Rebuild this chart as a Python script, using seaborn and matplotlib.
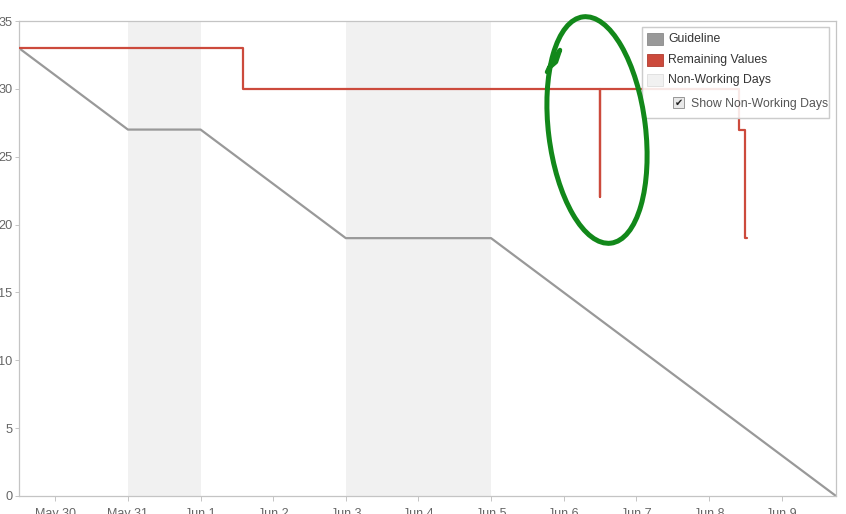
import numpy as np
import pandas as pd
import matplotlib
matplotlib.use("Agg")
import matplotlib.pyplot as plt
import matplotlib.dates as mdates
from matplotlib.patches import Rectangle, Ellipse
from matplotlib.lines import Line2D
import seaborn as sns

# ---- data ----
guide_times = ["2018-05-29 12:00", "2018-05-31 00:00", "2018-06-01 00:00",
               "2018-06-03 00:00", "2018-06-05 00:00", "2018-06-09 18:00"]
guide_values = [33, 27, 27, 19, 19, 0]

remain_times = ["2018-05-29 12:00", "2018-06-01 14:00", "2018-06-01 14:00",
                "2018-06-06 12:00", "2018-06-06 12:00", "2018-06-06 12:00",
                "2018-06-08 10:00", "2018-06-08 10:00", "2018-06-08 12:00",
                "2018-06-08 12:00", "2018-06-08 12:40"]
remain_values = [33, 33, 30, 30, 22, 30, 30, 27, 27, 19, 19]

nonwork_start = ["2018-05-31", "2018-06-03"]
nonwork_end = ["2018-06-01", "2018-06-05"]

x_start = "2018-05-29 12:00"
x_end = "2018-06-09 18:00"
y_ticks = [0, 5, 10, 15, 20, 25, 30, 35]

legend_labels = ["Guideline", "Remaining Values", "Non-Working Days"]
checkbox_label = "Show Non-Working Days"

# ---- style ----
sns.set_theme(style="white")
plt.rcParams["font.family"] = ["Liberation Sans", "DejaVu Sans"]

W, H = 846, 514
fig = plt.figure(figsize=(W / 100, H / 100), dpi=100)
ax = fig.add_axes([19 / W, 18 / H, (836 - 19) / W, (496 - 21) / H])

gray = "#999999"
red = "#cc4a3c"
shade = "#f1f1f1"

for s, e in zip(nonwork_start, nonwork_end):
    ax.axvspan(pd.Timestamp(s), pd.Timestamp(e), color=shade, lw=0, zorder=0)

gdf = pd.DataFrame({"t": pd.to_datetime(guide_times), "v": guide_values})
rdf = pd.DataFrame({"t": pd.to_datetime(remain_times), "v": remain_values})

sns.lineplot(data=gdf, x="t", y="v", ax=ax, color=gray, lw=1.6,
             sort=False, estimator=None, zorder=2)
sns.lineplot(data=rdf, x="t", y="v", ax=ax, color=red, lw=1.6,
             sort=False, estimator=None, zorder=3)

ax.set_xlim(pd.Timestamp(x_start), pd.Timestamp(x_end))
ax.set_ylim(0, 35)
ax.set_yticks(y_ticks)
ax.xaxis.set_major_locator(mdates.DayLocator())
ax.xaxis.set_major_formatter(mdates.DateFormatter("%b %-d"))
ax.set_xlabel("")
ax.set_ylabel("")

for sp in ax.spines.values():
    sp.set_color("#c4c4c4")
    sp.set_linewidth(0.9)

ax.tick_params(axis="x", bottom=True, length=3.6, width=0.7, color="#c4c4c4",
               pad=5.0, labelsize=9, labelcolor="#666666")
ax.tick_params(axis="y", left=True, length=2.6, width=0.7, color="#c4c4c4",
               pad=2.2, labelsize=9.2, labelcolor="#666666")
ax.grid(False)

# ---- legend panel (pixel coordinates in figure) ----
def fx(px):
    return px / W

def fy(py):
    return 1 - py / H

frame = Rectangle((fx(642), fy(118)), fx(829) - fx(642), fy(27) - fy(118),
                  transform=fig.transFigure, facecolor="white", alpha=0.88,
                  edgecolor="#cccccc", lw=0.9, zorder=10)
fig.patches.append(frame)
frame2 = Rectangle((fx(642), fy(118)), fx(829) - fx(642), fy(27) - fy(118),
                   transform=fig.transFigure, facecolor="none",
                   edgecolor="#cccccc", lw=0.9, zorder=11)
fig.patches.append(frame2)

sw_colors = [gray, red, shade]
sw_edges = ["#8a8a8a", "#b03a2e", "#dddddd"]
sw_tops = [33, 54, 74]
for lbl, c, ec, top in zip(legend_labels, sw_colors, sw_edges, sw_tops):
    r = Rectangle((fx(647), fy(top + 12)), fx(663) - fx(647), fy(top) - fy(top + 12),
                  transform=fig.transFigure, facecolor=c, edgecolor=ec, lw=0.6,
                  zorder=12)
    fig.patches.append(r)
    fig.text(fx(668), fy(top + 6), lbl, fontsize=8.8, color="#333333",
             va="center", ha="left", zorder=12)

cb = Rectangle((fx(673), fy(108)), fx(684) - fx(673), fy(97) - fy(108),
               transform=fig.transFigure, facecolor="#e8e8e8", edgecolor="#888888",
               lw=0.6, zorder=12)
fig.patches.append(cb)
fig.text(fx(678.5), fy(102.5), "\u2714", fontsize=7, color="#222222",
         ha="center", va="center", family=["DejaVu Sans"], zorder=13)
fig.text(fx(691), fy(104.5), checkbox_label, fontsize=8.8, color="#555555",
         va="center", ha="left", zorder=12)

# ---- hand-drawn green circle annotation (in inches, isotropic) ----
green = "#12881a"
ell = Ellipse((597 / 100, (H - 130) / 100), width=0.97, height=2.28,
              angle=7, transform=fig.dpi_scale_trans, fill=False,
              edgecolor=green, lw=3.6, zorder=20)
fig.patches.append(ell)
tail = Line2D([fx(547), fx(553), fx(560), fx(556), fx(549)],
              [fy(72), fy(60), fy(50), fy(62), fy(68)],
              transform=fig.transFigure, color=green, lw=3.2, zorder=20,
              solid_capstyle="round")
fig.lines.append(tail)

fig.savefig("out.png", dpi=100)
